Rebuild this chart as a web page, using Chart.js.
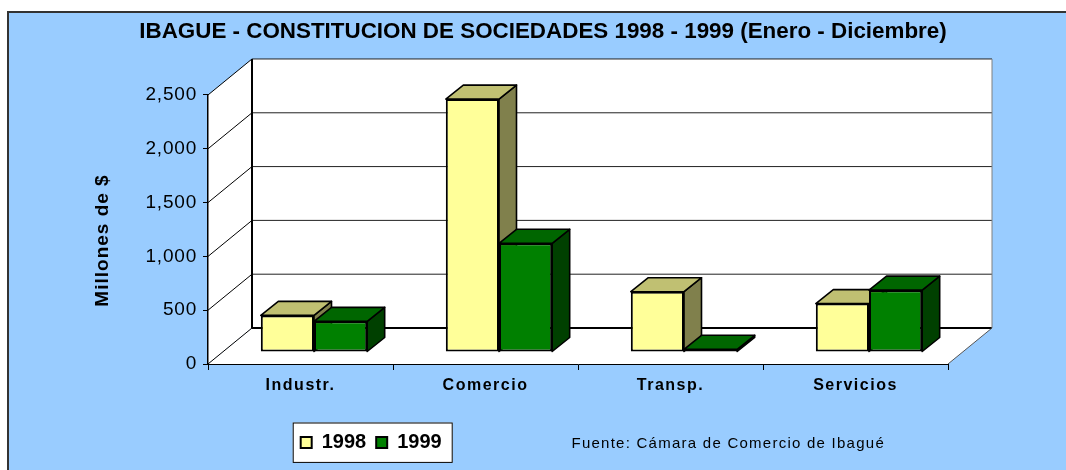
<!DOCTYPE html>
<html>
<head>
<meta charset="utf-8">
<script src="https://cdn.jsdelivr.net/npm/chart.js@4/dist/chart.umd.min.js"></script>
<style>
  html, body { margin: 0; padding: 0; background: #ffffff; }
  canvas { display: block; }
</style>
</head>
<body>
<canvas id="c" width="1066" height="470"></canvas>
<script>
// ---------- data ----------
const categories = ['Industr.', 'Comercio', 'Transp.', 'Servicios'];
const seriesNames = ['1998', '1999'];
const values1998 = [340, 2350, 560, 450];
const values1999 = [285, 1010, 25, 575];
const yTicks = [0, 500, 1000, 1500, 2000, 2500];
const titleText = 'IBAGUE - CONSTITUCION DE SOCIEDADES 1998 - 1999 (Enero - Diciembre)';
const yTitleText = 'Millones de $';
const sourceText = 'Fuente: Cámara de Comercio de Ibagué';

// ---------- style ----------
const FONT = "'Liberation Sans', Arial, sans-serif";
const FRONT = ['#FFFF99', '#008000'];
const TOP = ['#C0C072', '#006600'];
const SIDE = ['#80804C', '#004000'];
const DEPTH = { dx: 44, dy: -36 };        // front axis plane -> back wall
const BAR_SHIFT = { dx: 13.5, dy: -12 };  // bars stand a third of the way back
const BAR_DEPTH = { dx: 17.5, dy: -14 };  // depth of each bar
const LEGEND_BOX = { left: 290.7, top: 422.5, width: 400, height: 42 };
const PLOT_BOTTOM_SPACE = 106;            // canvas height minus front floor edge

Chart.defaults.font.family = FONT;

function poly(ctx, pts, fill, stroke, lw) {
  ctx.beginPath();
  ctx.moveTo(pts[0][0], pts[0][1]);
  for (let i = 1; i < pts.length; i++) ctx.lineTo(pts[i][0], pts[i][1]);
  ctx.closePath();
  if (fill) { ctx.fillStyle = fill; ctx.fill(); }
  if (stroke) { ctx.strokeStyle = stroke; ctx.lineWidth = lw || 1; ctx.stroke(); }
}
function line(ctx, x1, y1, x2, y2, color, lw) {
  ctx.beginPath();
  ctx.moveTo(x1, y1); ctx.lineTo(x2, y2);
  ctx.strokeStyle = color; ctx.lineWidth = lw; ctx.stroke();
}
function patch(scale, method, spacing, tx, ty) {
  const key = '_patched_' + method;
  if (!scale || scale[key]) return;
  const orig = scale[method];
  scale[method] = function (a) {
    const c = this.ctx;
    c.save();
    try { c.letterSpacing = spacing; } catch (e) {}
    c.translate(tx, ty);
    orig.call(this, a);
    c.restore();
  };
  scale[key] = true;
}

const frame3d = {
  id: 'frame3d',
  afterLayout(chart) {
    const lg = chart.legend;
    if (lg) {
      lg.left = LEGEND_BOX.left; lg.top = LEGEND_BOX.top;
      lg.width = LEGEND_BOX.width; lg.height = LEGEND_BOX.height;
      lg.right = lg.left + lg.width; lg.bottom = lg.top + lg.height;
    }
    patch(chart.scales.x, 'drawLabels', '1.5px', 0, 0);
    patch(chart.scales.y, 'drawLabels', '0.8px', 0, 0);
    patch(chart.scales.y, 'drawTitle', '1px', 0, 11);
  },
  beforeDraw(chart) {
    const ctx = chart.ctx;
    const { x, y } = chart.scales;
    ctx.save();
    // blue panel
    ctx.fillStyle = '#99CCFF';
    ctx.fillRect(8, 12, 1058, 458);
    line(ctx, 8, 470, 8, 12, '#333333', 2);
    line(ctx, 7, 12, 1066, 12, '#333333', 2);

    const L = x.left, R = x.right;
    const y0 = y.getPixelForValue(yTicks[0]);
    const yT = y.getPixelForValue(yTicks[yTicks.length - 1]);
    const dx = DEPTH.dx, dy = DEPTH.dy;
    // walls + floor
    poly(ctx, [[L + dx, yT + dy], [R + dx, yT + dy], [R + dx, y0 + dy], [L + dx, y0 + dy]], '#ffffff');
    poly(ctx, [[L, y0], [L, yT], [L + dx, yT + dy], [L + dx, y0 + dy]], '#ffffff');
    poly(ctx, [[L, y0], [R, y0], [R + dx, y0 + dy], [L + dx, y0 + dy]], '#ffffff');
    // gridlines
    yTicks.forEach(v => {
      const py = y.getPixelForValue(v);
      if (v !== 0) line(ctx, L + dx, py + dy, R + dx, py + dy, '#222222', 1);
      line(ctx, L, py, L + dx, py + dy, '#000000', 1);
    });
    line(ctx, L + dx, y0 + dy, R + dx, y0 + dy, '#000000', 2.2);
    line(ctx, R + dx, yT + dy, R + dx, y0 + dy, '#808080', 1);
    line(ctx, R, y0, R + dx, y0 + dy, '#555555', 1);
    line(ctx, L + dx, yT + dy, L + dx, y0 + dy, '#000000', 2);

    // legend frame
    const lg = chart.legend;
    ctx.fillStyle = '#ffffff';
    ctx.fillRect(lg.left + 2, lg.top, 160, 40.4);
    ctx.strokeStyle = '#000000'; ctx.lineWidth = 1;
    ctx.strokeRect(lg.left + 2.5, lg.top + 0.5, 159, 39.4);
    ctx.restore();
  },
  beforeDatasetsDraw(chart) {
    const ctx = chart.ctx;
    ctx.save();
    ctx.translate(BAR_SHIFT.dx, BAR_SHIFT.dy);
    ctx.lineJoin = 'round';
    chart.data.datasets.forEach((ds, i) => {
      const meta = chart.getDatasetMeta(i);
      meta.data.forEach(bar => {
        const p = bar.getProps(['x', 'y', 'base', 'width'], true);
        const l = p.x - p.width / 2, r = p.x + p.width / 2;
        const t = p.y, b = p.base;
        const bx = BAR_DEPTH.dx, by = BAR_DEPTH.dy;
        poly(ctx, [[r, t], [r + bx, t + by], [r + bx, b + by], [r, b]], SIDE[i], '#000000', 1.6);
        poly(ctx, [[l, t], [l + bx, t + by], [r + bx, t + by], [r, t]], TOP[i], '#000000', 1.6);
      });
    });
  },
  afterDatasetsDraw(chart) {
    chart.ctx.restore();
  },
  afterDraw(chart) {
    const ctx = chart.ctx;
    ctx.save();
    ctx.font = '15px ' + FONT;
    try { ctx.letterSpacing = '1.25px'; } catch (e) {}
    ctx.fillStyle = '#000000';
    ctx.textBaseline = 'alphabetic';
    ctx.textAlign = 'left';
    ctx.fillText(sourceText, 571.5, 447.7);
    ctx.restore();
  }
};

new Chart(document.getElementById('c'), {
  type: 'bar',
  data: {
    labels: categories,
    datasets: [
      { label: seriesNames[0], data: values1998, backgroundColor: FRONT[0], borderColor: '#000000',
        borderWidth: 2, borderSkipped: false, clip: false, yAxisID: 'y', xAxisID: 'x' },
      { label: seriesNames[1], data: values1999, backgroundColor: FRONT[1], borderColor: '#000000',
        borderWidth: 2, borderSkipped: false, clip: false, yAxisID: 'y', xAxisID: 'x' }
    ]
  },
  options: {
    responsive: false,
    animation: false,
    events: [],
    layout: { padding: { left: 20, top: 0, right: 0, bottom: 0 } },
    datasets: { bar: { categoryPercentage: 0.575, barPercentage: 1 } },
    plugins: {
      title: {
        display: true, text: titleText, color: '#000000',
        font: { family: FONT, size: 22.4, weight: 'bold', lineHeight: 1.2 },
        padding: { top: 18, bottom: 50.1 }
      },
      legend: {
        display: true, position: 'bottom', align: 'start',
        labels: {
          boxWidth: 11, boxHeight: 11, padding: 10, color: '#000000',
          font: { family: FONT, size: 20, weight: 'bold' },
          sort: (a, b) => a.datasetIndex - b.datasetIndex
        }
      },
      tooltip: { enabled: false }
    },
    scales: {
      x: {
        position: 'bottom',
        grid: { display: true, drawOnChartArea: false, drawTicks: true, tickLength: 6, color: '#000000', offset: true },
        border: { display: true, color: '#000000', width: 1 },
        ticks: { color: '#000000', padding: 6, maxRotation: 0,
                 font: { family: FONT, size: 16, weight: 'bold', lineHeight: 1.2 } },
        afterFit: s => {
          const lg = s.chart.legend;
          s.height = PLOT_BOTTOM_SPACE - (lg && lg.options.display ? lg.height : 0);
        }
      },
      y: {
        position: 'left',
        min: yTicks[0], max: yTicks[yTicks.length - 1],
        afterBuildTicks: s => { s.ticks = yTicks.map(v => ({ value: v })); },
        grid: { display: true, drawOnChartArea: false, drawTicks: true, tickLength: 5, color: '#000000' },
        border: { display: true, color: '#000000', width: 1.5 },
        ticks: { color: '#000000', padding: 6, font: { family: FONT, size: 19 },
                 callback: v => Number(v).toLocaleString('en-US') },
        title: { display: true, text: yTitleText, color: '#000000',
                 font: { family: FONT, size: 19, weight: 'bold', lineHeight: 1.2 },
                 padding: { top: 71.6, bottom: 0 } },
        afterFit: s => { s.width = 188; }
      },
      yR: {
        position: 'right', display: true,
        grid: { display: false }, border: { display: false },
        ticks: { display: false }, title: { display: false },
        afterFit: s => { s.width = 118; }
      }
    }
  },
  plugins: [frame3d]
});
</script>
</body>
</html>
